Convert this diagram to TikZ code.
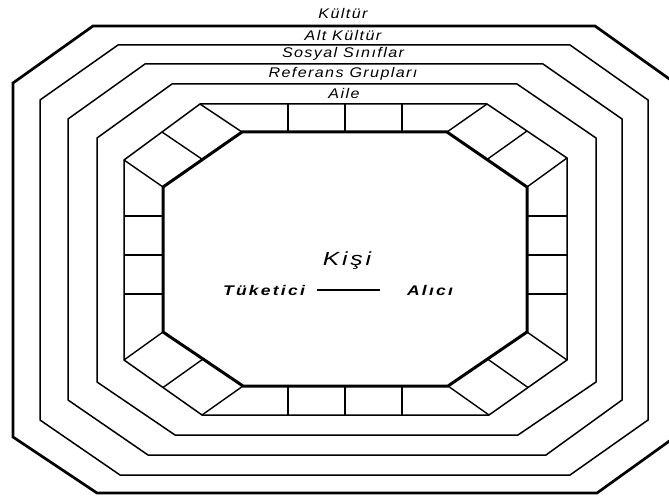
\documentclass[tikz,border=0pt]{standalone}
\usepackage{fontspec}
\setmainfont{Liberation Sans}
\newfontfamily\ringfont[FakeStretch=1.15, LetterSpace=10]{Liberation Sans}
\newfontfamily\kisifont[FakeStretch=1.3, LetterSpace=15]{Liberation Sans}
\newfontfamily\rolefont[FakeStretch=1.25, LetterSpace=16]{Liberation Sans}
\usetikzlibrary{calc,positioning}

\begin{document}
\begin{tikzpicture}[
  x=1pt, y=-1pt,
  ring/.style={draw, line width=1.5pt, line join=miter},
  outerring/.style={ring, line width=2.7pt},
  person/.style={draw, line width=3pt, line join=miter},
  cell/.style={draw, line width=1.4pt},
  ringlabel/.style={font=\ringfont\itshape\fontsize{14}{16}\selectfont, inner sep=0pt},
  kisilabel/.style={font=\kisifont\itshape\fontsize{19}{21}\selectfont, inner sep=0pt},
  rolelabel/.style={font=\rolefont\bfseries\itshape\fontsize{14}{16}\selectfont, inner sep=0pt}
]
\useasboundingbox (0,0) rectangle (669,497);
\clip (0,0) rectangle (669,497);

% rings
\draw[outerring] (93,26) -- (595,26) -- (675,83) -- (675,437) -- (597,493) -- (97,493) -- (13,437) -- (13,83) -- cycle;
\draw[ring] (118,45) -- (570,45) -- (648,100) -- (648,420) -- (570,475) -- (120,475) -- (40,420) -- (40,100) -- cycle;
\draw[ring] (145,64) -- (543,64) -- (622,119) -- (622,400) -- (546,455) -- (148,455) -- (68,400) -- (68,119) -- cycle;
\draw[ring] (172,84) -- (517,84) -- (596,138) -- (596,382) -- (518,435) -- (175,435) -- (97,382) -- (97,138) -- cycle;

% cell ring
\coordinate (o1) at (200,104);
\coordinate (o2) at (487,104);
\coordinate (o3) at (567,158);
\coordinate (o4) at (567,360);
\coordinate (o5) at (489,415);
\coordinate (o6) at (202,415);
\coordinate (o7) at (124,360);
\coordinate (o8) at (124,160);
\coordinate (i1) at (242,132);
\coordinate (i2) at (447,132);
\coordinate (i3) at (527,187);
\coordinate (i4) at (527,332);
\coordinate (i5) at (448,386);
\coordinate (i6) at (243,386);
\coordinate (i7) at (163,332);
\coordinate (i8) at (163,187);

\draw[ring] (o1) -- (o2) -- (o3) -- (o4) -- (o5) -- (o6) -- (o7) -- (o8) -- cycle;
\foreach \k in {1,...,8}
  \draw[cell] (o\k) -- (i\k);
\foreach \a/\b in {1/8, 2/3, 4/5, 6/7}
  \draw[cell] ($(o\a)!0.5!(o\b)$) -- ($(i\a)!0.5!(i\b)$);
\foreach \x in {288,345,402} {
  \draw[cell] (\x,104) -- (\x,132);
  \draw[cell] (\x,386) -- (\x,415);
}
\foreach \y in {216,255,294} {
  \draw[cell] (124,\y) -- (163,\y);
  \draw[cell] (527,\y) -- (567,\y);
}
\draw[person] (i1) -- (i2) -- (i3) -- (i4) -- (i5) -- (i6) -- (i7) -- (i8) -- cycle;

% labels
\node[ringlabel] (kultur) at (343,13) {Kültür};
\node[ringlabel] (altkultur) at (343,35) {Alt Kültür};
\node[ringlabel] (sosyal) at (343,54) {Sosyal Sınıflar};
\node[ringlabel] (referans) at (343,74) {Referans Grupları};
\node[ringlabel] (aile) at (344,93) {Aile};

\node[kisilabel] (kisi) at (347,261) {Kişi};
\node[rolelabel] (tuketici) at (264,290) {Tüketici};
\node[rolelabel] (alici) at (430,290) {Alıcı};
\draw[line width=1.8pt, shorten <=12pt, shorten >=27pt] (tuketici.east) -- (alici.west);
\end{tikzpicture}
\end{document}
